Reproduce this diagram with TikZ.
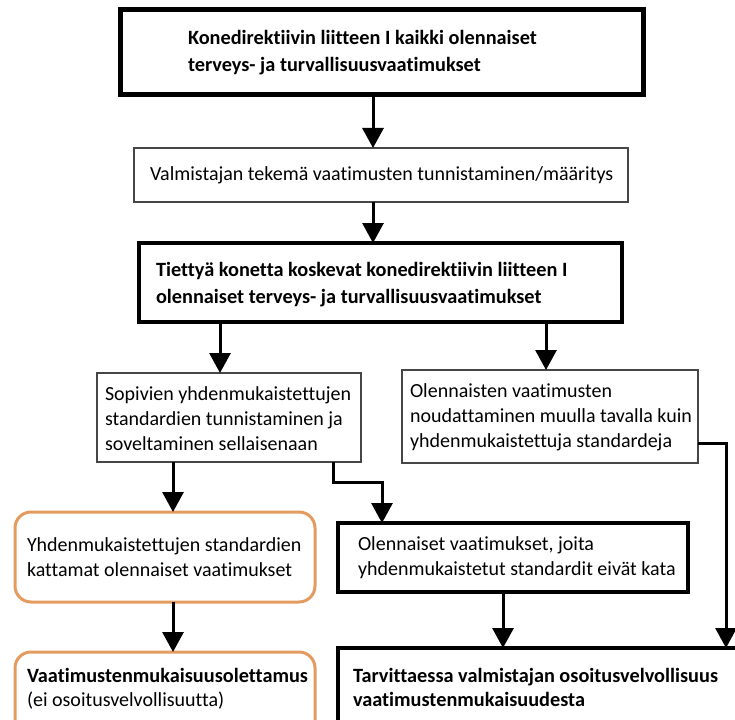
\documentclass[tikz,border=0pt]{standalone}
\usepackage{fontspec}
\setmainfont[Ligatures={NoCommon}]{Carlito}
\usetikzlibrary{arrows.meta}
\definecolor{boxgray}{RGB}{70,70,70}
\definecolor{accent}{RGB}{228,155,95}

\begin{document}
\begin{tikzpicture}[x=1pt,y=-1pt,
  every node/.style={inner sep=0pt,outer sep=0pt},
  txt/.style={anchor=base west,font=\fontsize{20}{25}\selectfont},
  btxt/.style={anchor=base west,font=\fontsize{20.3}{25}\selectfont\bfseries},
  thinbox/.style={draw=boxgray,line width=1.2pt},
  heavybox/.style={draw=black,line width=#1},
  softbox/.style={draw=accent,line width=3pt,rounded corners=16pt},
  flow/.style={draw=black,line width=3pt,-{Triangle[width=21pt,length=20pt]}}
]
\useasboundingbox (0,0) rectangle (735,719);
\clip (0,0) rectangle (735,719);

% boxes
\node[heavybox=5pt,minimum width=523pt,minimum height=85pt] (b1) at (381.5,52.5) {};
\node[thinbox,minimum width=494pt,minimum height=54pt] (b2) at (381,175) {};
\node[heavybox=4.5pt,minimum width=483pt,minimum height=79pt] (b3) at (380.5,282.5) {};
\node[thinbox,minimum width=264pt,minimum height=89pt] (b4) at (229,417.5) {};
\node[thinbox,minimum width=296pt,minimum height=93pt] (b5) at (550,416.5) {};
\node[softbox,minimum width=300pt,minimum height=90pt] (o1) at (165,557) {};
\node[heavybox=3.5pt,minimum width=350pt,minimum height=69pt] (b6) at (513,557.5) {};
\node[softbox,minimum width=300pt,minimum height=108pt] (o2) at (165,706) {};
\node[heavybox=3.5pt,minimum width=432pt,minimum height=112pt] (b7) at (554,704) {};

% texts
\node[btxt] (t1a) at (188,45) {Konedirektiivin liitteen I kaikki olennaiset};
\node[btxt] (t1b) at (188,72) {terveys- ja turvallisuusvaatimukset};
\node[txt] (t2) at (150,181) {Valmistajan tekemä vaatimusten tunnistaminen/määritys};
\node[btxt] (t3a) at (156,276) {Tiettyä konetta koskevat konedirektiivin liitteen I};
\node[btxt] (t3b) at (156,303) {olennaiset terveys- ja turvallisuusvaatimukset};
\node[txt] (t4a) at (105,400) {Sopivien yhdenmukaistettujen};
\node[txt] (t4b) at (105,425) {standardien tunnistaminen ja};
\node[txt] (t4c) at (105,450) {soveltaminen sellaisenaan};
\node[txt] (t5a) at (410,397) {Olennaisten vaatimusten};
\node[txt] (t5b) at (410,422) {noudattaminen muulla tavalla kuin};
\node[txt] (t5c) at (410,447) {yhdenmukaistettuja standardeja};
\node[txt] (t6a) at (27,551) {Yhdenmukaistettujen standardien};
\node[txt] (t6b) at (27,576) {kattamat olennaiset vaatimukset};
\node[txt] (t7a) at (358,550) {Olennaiset vaatimukset, joita};
\node[txt] (t7b) at (358,575) {yhdenmukaistetut standardit eivät kata};
\node[btxt] (t8a) at (27,682) {Vaatimustenmukaisuusolettamus};
\node[txt] (t8b) at (27,706) {(ei osoitusvelvollisuutta)};
\node[btxt] (t9a) at (353,682) {Tarvittaessa valmistajan osoitusvelvollisuus};
\node[btxt] (t9b) at (353,706) {vaatimustenmukaisuudesta};

% connector positions
\coordinate (xa) at (373,0);
\coordinate (xc) at (220,0);
\coordinate (xd) at (546,0);
\coordinate (xe) at (173,0);
\coordinate (xf) at (333,0);
\coordinate (xg) at (382,0);
\coordinate (xh) at (503,0);
\coordinate (xi) at (726,0);
\coordinate (yb) at (0,443);

% connectors
\draw[flow] (b1.south -| xa) -- (b2.north -| xa);
\draw[flow] (b2.south -| xa) -- (b3.north -| xa);
\draw[flow] (b3.south -| xc) -- (b4.north -| xc);
\draw[flow] (b3.south -| xd) -- (b5.north -| xd);
\draw[flow] (b4.south -| xe) -- (o1.north -| xe);
\draw[flow] (b4.south -| xf) -- ++(0,20) -| (b6.north -| xg);
\draw[flow] (o1.south -| xe) -- (o2.north -| xe);
\draw[flow] (b6.south -| xh) -- (b7.north -| xh);
\draw[flow] (b5.east |- yb) -| (b7.north -| xi);
\end{tikzpicture}
\end{document}
